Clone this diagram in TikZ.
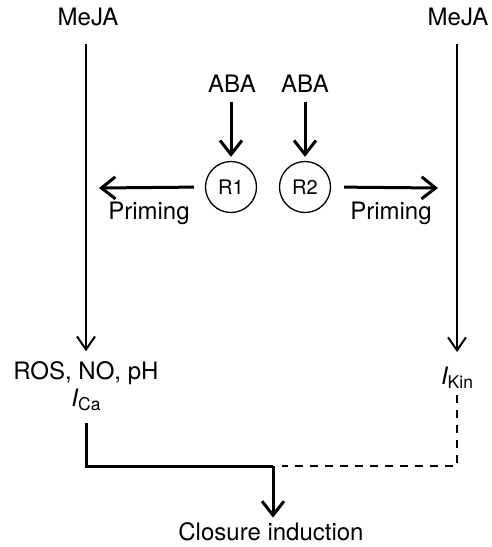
\documentclass[tikz,border=0pt]{standalone}
\usepackage{fontspec}
\setmainfont{TeX Gyre Heros}
\usetikzlibrary{arrows.meta}
\tikzset{
  lbl/.style={inner sep=0pt, font=\fontsize{24}{27}\selectfont},
  rcirc/.style={draw, circle, line width=1.3pt, minimum size=51pt, inner sep=0pt, font=\fontsize{20}{23}\selectfont},
  thinarrow/.style={line width=2pt, -{Straight Barb[length=13pt, width=18pt, line width=2pt]}},
  bigarrow/.style={line width=3pt, -{Straight Barb[length=14pt, width=22pt, line width=3pt]}},
  bigline/.style={line width=3pt},
  dashline/.style={line width=2.6pt, dash pattern=on 8pt off 7pt}
}
\newcommand{\sub}[1]{\raisebox{-4pt}{\fontsize{17.5}{19}\selectfont #1}}
\begin{document}
\begin{tikzpicture}[x=1pt,y=-1pt]
\useasboundingbox (0,0) rectangle (492,547);
\node[lbl] (meja1) at (88,17) {MeJA};
\node[lbl] (meja2) at (458,17) {MeJA};
\node[lbl] (aba1) at (232,84) {ABA};
\node[lbl] (aba2) at (305,84) {ABA};
\node[rcirc] (r1) at (231,187) {R1};
\node[rcirc] (r2) at (305,187) {R2};
\node[lbl] (prim1) at (149,213) {Priming};
\node[lbl] (prim2) at (391,213) {Priming};
\node[lbl] (ros) at (86,373) {ROS, NO, pH};
\node[lbl] (ica) at (86,400) {{\itshape I}\sub{Ca}};
\node[lbl] (ikin) at (457,378) {{\itshape I}\sub{Kin}};
\node[lbl] (clos) at (271,532) {Closure induction};
\coordinate (j) at (273,466);
\coordinate (dj) at (282,466);
\coordinate (lt) at (99,188);
\coordinate (rt) at (438,188);

\draw[thinarrow, shorten <=18pt, shorten >=10pt] (meja1.south -| ros) -- (ros.north);
\draw[thinarrow, shorten <=18pt, shorten >=15pt] (meja2.south -| ikin) -- (ikin.north);
\draw[bigarrow, shorten <=9pt, shorten >=4pt] (aba1.south -| r1) -- (r1.north);
\draw[bigarrow, shorten <=9pt, shorten >=4pt] (aba2.south -| r2) -- (r2.north);
\draw[bigarrow, shorten <=11pt] (r1.west) -- (lt);
\draw[bigarrow, shorten <=13pt] (r2.east) -- (rt);
\draw[bigline, shorten <=12pt] (ica.south) |- (j);
\draw[bigarrow, shorten >=5pt] (j) -- (clos.north -| j);
\draw[dashline, shorten <=6pt] (ikin.south) |- (dj);
\end{tikzpicture}
\end{document}
